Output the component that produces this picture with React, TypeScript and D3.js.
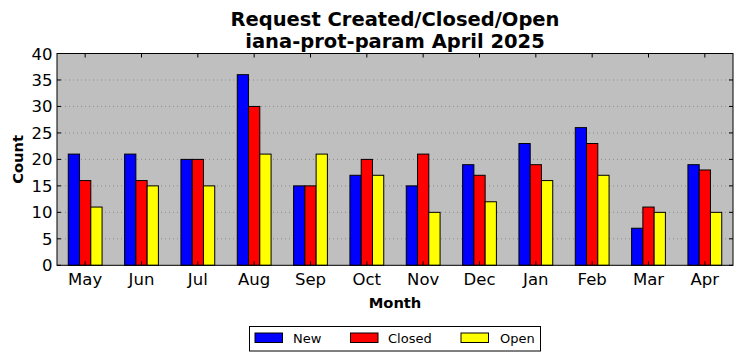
import React from "react";
import * as d3 from "d3";

const months = ["May", "Jun", "Jul", "Aug", "Sep", "Oct", "Nov", "Dec", "Jan", "Feb", "Mar", "Apr"];
const newCounts = [21, 21, 20, 36, 15, 17, 15, 19, 23, 26, 7, 19];
const closedCounts = [16, 16, 20, 30, 15, 20, 21, 17, 19, 23, 11, 18];
const openCounts = [11, 15, 15, 21, 21, 17, 10, 12, 16, 17, 10, 10];
const seriesNames = ["New", "Closed", "Open"];
const seriesColors = ["#0000ff", "#ff0000", "#ffff00"];
const yTicks = [0, 5, 10, 15, 20, 25, 30, 35, 40];

const W = 742, H = 361;
const left = 57, right = 733, top = 53.5, bottom = 265.3;
const font = "'DejaVu Sans', sans-serif";

export default function App() {
  const x = d3.scaleBand<string>().domain(months).range([left, right]).paddingInner(0).paddingOuter(0);
  const y = d3.scaleLinear().domain([0, 40]).range([bottom, top]);
  const series = [newCounts, closedCounts, openCounts];
  const bw = x.bandwidth() * 0.2;

  const legendItems = [
    { name: seriesNames[0], color: seriesColors[0], px: 255, tx: 293 },
    { name: seriesNames[1], color: seriesColors[1], px: 350.5, tx: 388 },
    { name: seriesNames[2], color: seriesColors[2], px: 461, tx: 500 },
  ];

  return (
    <svg width={W} height={H} style={{ position: "absolute", left: 0, top: 0 }}>
      <rect x={0} y={0} width={W} height={H} fill="#ffffff" />
      <text x={(left + right) / 2} y={25.5} textAnchor="middle" fontFamily={font} fontWeight="bold" fontSize={19.5}>
        Request Created/Closed/Open
      </text>
      <text x={(left + right) / 2} y={47.5} textAnchor="middle" fontFamily={font} fontWeight="bold" fontSize={19.5}>
        iana-prot-param April 2025
      </text>
      <rect x={left} y={top} width={right - left} height={bottom - top} fill="#bfbfbf" />
      {yTicks.slice(1, -1).map((t) => (
        <line key={"g" + t} x1={left} x2={right} y1={y(t)} y2={y(t)} stroke="#808080" strokeWidth={0.8} strokeDasharray="1,3" />
      ))}
      {months.map((m, i) =>
        series.map((s, k) => (
          <rect
            key={m + k}
            x={(x(m) as number) + x.bandwidth() * 0.2 + k * bw}
            y={y(s[i])}
            width={bw}
            height={y(0) - y(s[i])}
            fill={seriesColors[k]}
            stroke="#000"
            strokeWidth={1}
          />
        ))
      )}
      {months.map((m) => {
        const cx = (x(m) as number) + x.bandwidth() / 2;
        return (
          <g key={"t" + m}>
            <line x1={cx} x2={cx} y1={top} y2={top + 4} stroke="#000" strokeWidth={1} />
            <line x1={cx} x2={cx} y1={bottom} y2={bottom - 4} stroke="#000" strokeWidth={1} />
            <text x={cx} y={bottom + 19.5} textAnchor="middle" fontFamily={font} fontSize={16.5}>
              {m}
            </text>
          </g>
        );
      })}
      {yTicks.map((t) => (
        <g key={"y" + t}>
          <line x1={left} x2={left + 4} y1={y(t)} y2={y(t)} stroke="#000" strokeWidth={1} />
          <line x1={right} x2={right - 4} y1={y(t)} y2={y(t)} stroke="#000" strokeWidth={1} />
          <text x={left - 4.5} y={y(t) + 6} textAnchor="end" fontFamily={font} fontSize={16.5}>
            {t}
          </text>
        </g>
      ))}
      <rect x={left} y={top} width={right - left} height={bottom - top} fill="none" stroke="#000" strokeWidth={1} />
      <text
        transform={`translate(22.5,${(top + bottom) / 2}) rotate(-90)`}
        textAnchor="middle"
        fontFamily={font}
        fontWeight="bold"
        fontSize={14.7}
      >
        Count
      </text>
      <text x={(left + right) / 2} y={308} textAnchor="middle" fontFamily={font} fontWeight="bold" fontSize={14.7}>
        Month
      </text>
      <rect x={249.5} y={326.5} width={291} height={24.5} fill="#fff" stroke="#000" strokeWidth={1} />
      {legendItems.map((it) => (
        <g key={it.name}>
          <rect x={it.px} y={333} width={27.5} height={9.5} fill={it.color} stroke="#000" strokeWidth={1} />
          <text x={it.tx} y={342.5} fontFamily={font} fontSize={13}>
            {it.name}
          </text>
        </g>
      ))}
    </svg>
  );
}
